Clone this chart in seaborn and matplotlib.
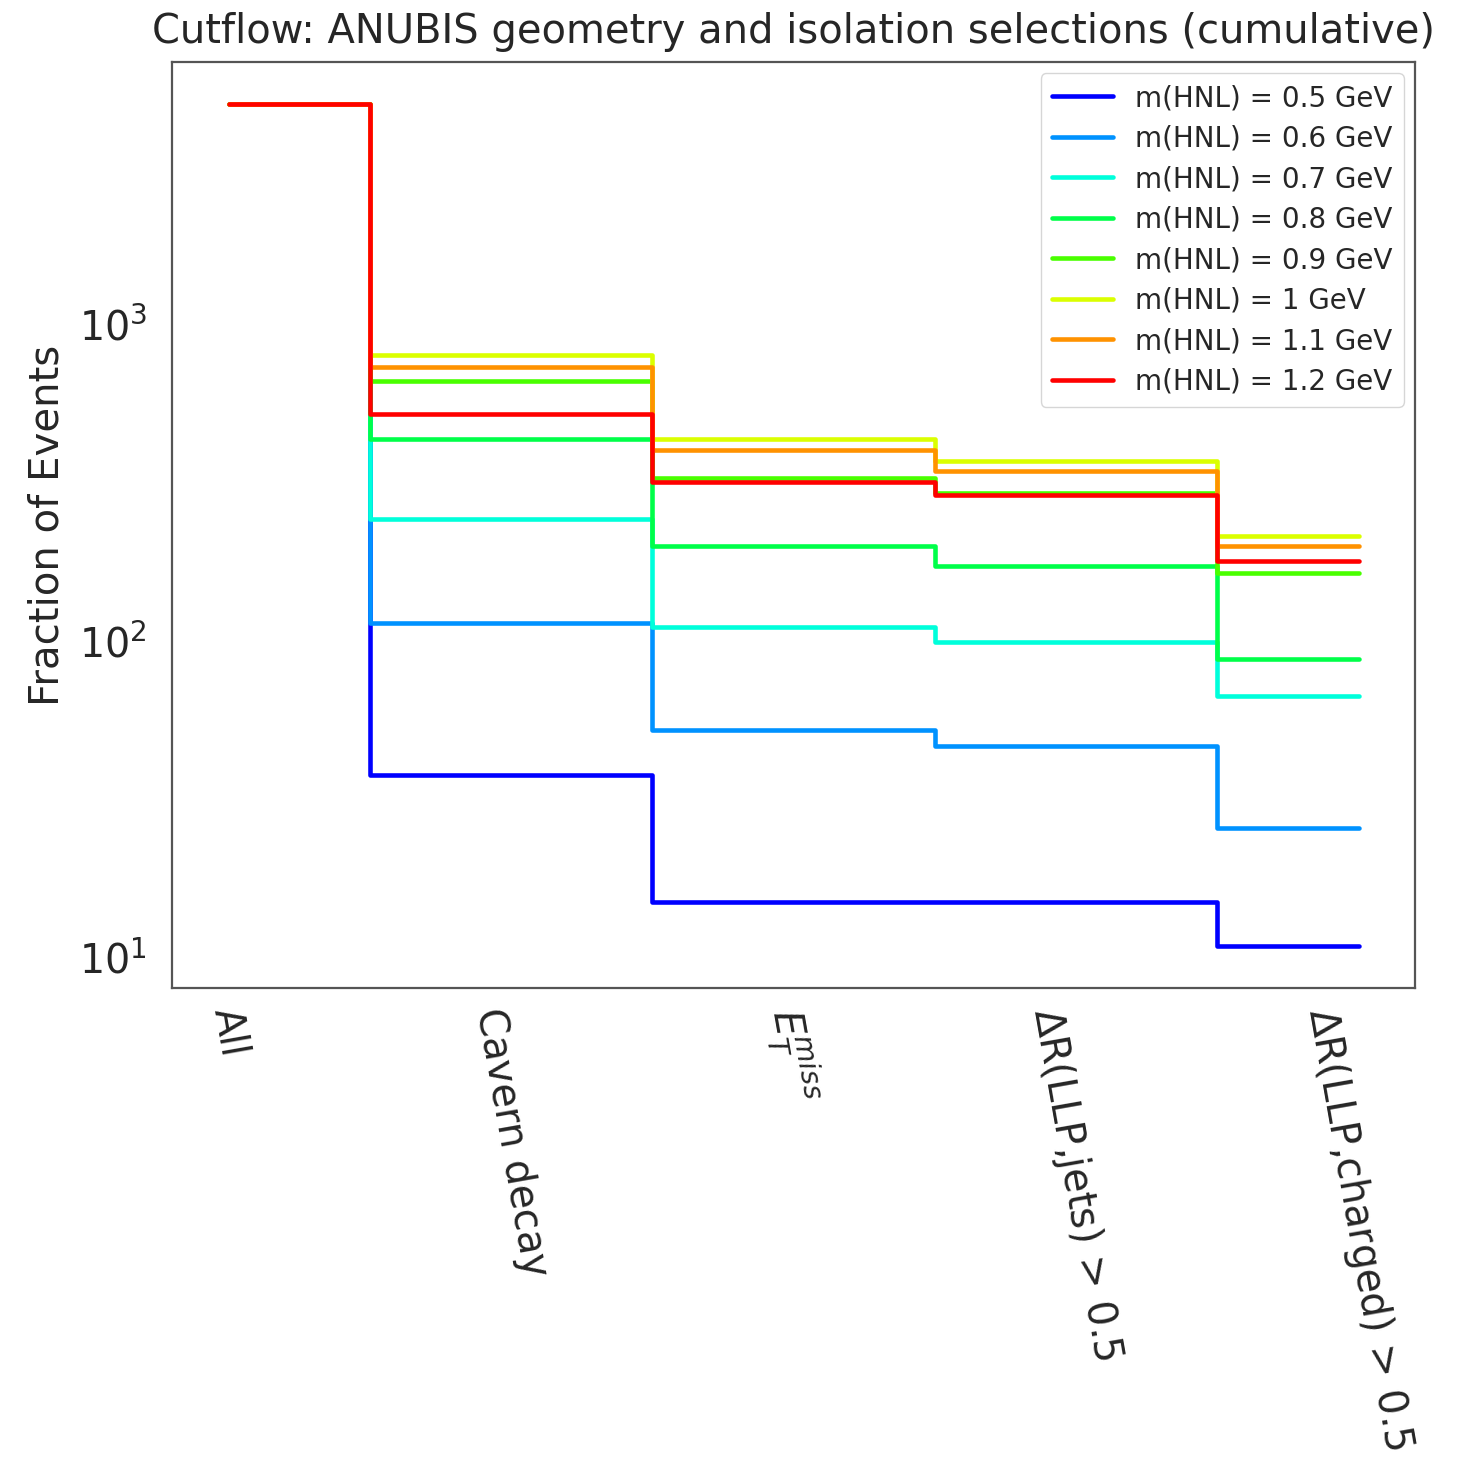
import colorsys
import numpy as np
import pandas as pd
import matplotlib
matplotlib.use("Agg")
import matplotlib.pyplot as plt
import seaborn as sns

# Selection steps (cumulative)
cuts = ["All", "Cavern decay", r"$E_T^{miss}$",
        r"$\Delta$R(LLP,jets) > 0.5", r"$\Delta$R(LLP,charged) > 0.5"]

# HNL mass points and their event yields after each selection
masses = ["0.5", "0.6", "0.7", "0.8", "0.9", "1", "1.1", "1.2"]
m05 = [4950, 37.7, 15.0, 15.0, 10.9]
m06 = [4950, 114, 52.3, 46.6, 25.7]
m07 = [4950, 243, 111, 99, 67]
m08 = [4950, 434, 200, 173, 88]
m09 = [4950, 662, 328, 294, 164]
m10 = [4950, 797, 434, 370, 215]
m11 = [4950, 732, 401, 344, 199]
m12 = [4950, 521, 317, 289, 179]
yields = [m05, m06, m07, m08, m09, m10, m11, m12]

labels = [f"m(HNL) = {m} GeV" for m in masses]
rows = []
for lab, ys in zip(labels, yields):
    for i, v in enumerate(ys):
        rows.append({"step": i, "events": v, "mass": lab})
df = pd.DataFrame(rows)

# rainbow palette from blue (lightest) to red (heaviest)
hues = np.linspace(2 / 3, 0, len(masses))
palette = [colorsys.hsv_to_rgb(h, 1, 1) for h in hues]

sns.set_theme(style="white")
plt.rcParams["font.family"] = ["DejaVu Sans"]

fig = plt.figure(figsize=(14.8, 14.57), dpi=100)
ax = fig.add_axes([172 / 1480, 1 - 988 / 1457, (1415 - 172) / 1480, (988 - 62) / 1457])

sns.lineplot(data=df, x="step", y="events", hue="mass", hue_order=labels,
             palette=palette, drawstyle="steps-mid", linewidth=3.3, ax=ax)

ax.set_yscale("log")
ax.set_xticks(range(len(cuts)))
ax.set_xticklabels(cuts, rotation=-80, fontsize=28.5)
ax.tick_params(axis="y", labelsize=28.5, pad=12)
ax.tick_params(axis="x", pad=6)
ax.set_xlabel("")
ax.set_ylabel("Fraction of Events", fontsize=29, labelpad=8)
ax.set_title("Cutflow: ANUBIS geometry and isolation selections (cumulative)",
             fontsize=28.8, pad=14)
for s in ax.spines.values():
    s.set_color("#555555")
    s.set_linewidth(1.6)

leg = ax.legend(loc="upper right", fontsize=20, frameon=True,
                borderaxespad=0.4, handlelength=2.2, labelspacing=0.45)
leg.get_frame().set_edgecolor("#cccccc")

fig.savefig("out.png", dpi=100)
